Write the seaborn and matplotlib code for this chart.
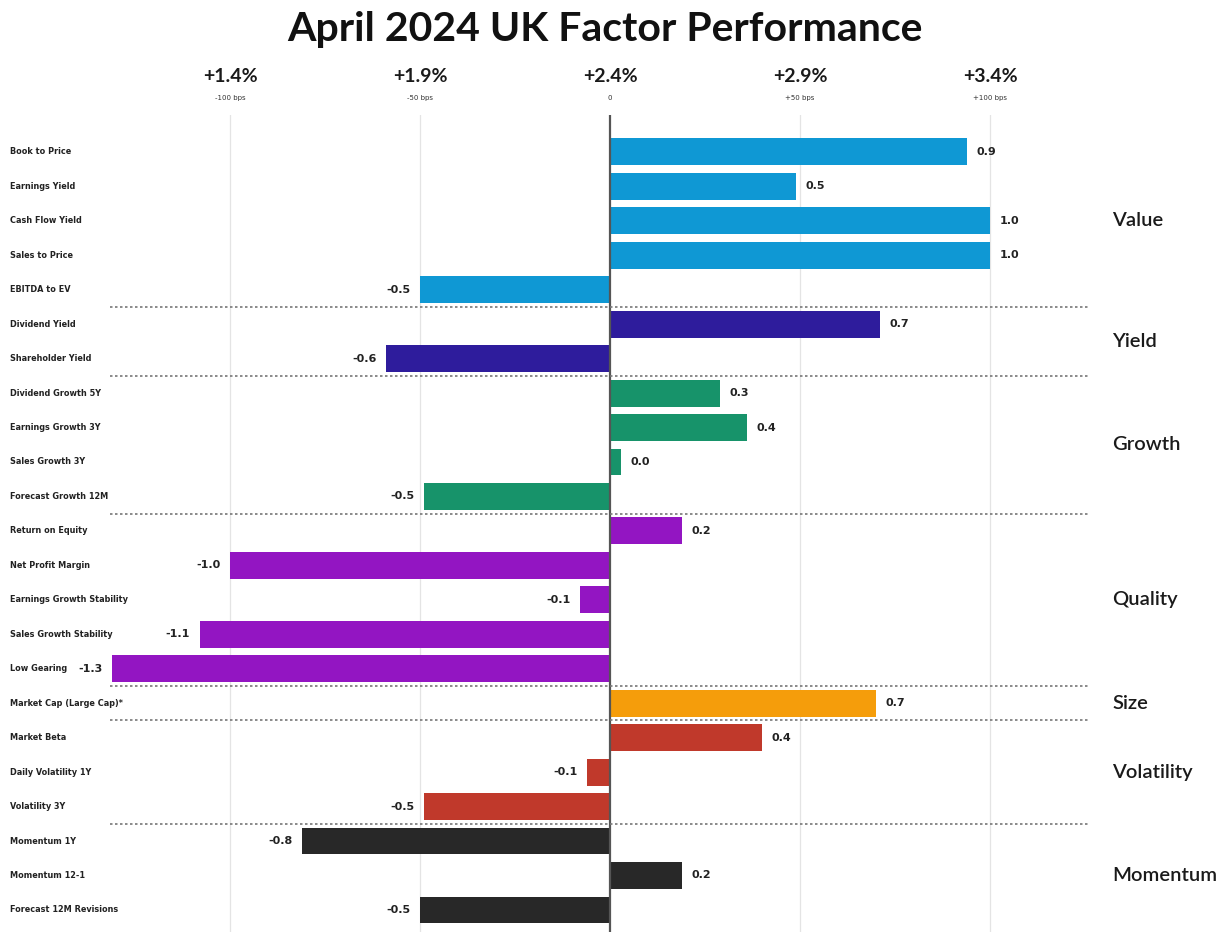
import matplotlib
matplotlib.use("Agg")
import matplotlib.pyplot as plt
import matplotlib.transforms as mtransforms
import seaborn as sns
import pandas as pd

factors = ["Book to Price", "Earnings Yield", "Cash Flow Yield", "Sales to Price", "EBITDA to EV",
           "Dividend Yield", "Shareholder Yield",
           "Dividend Growth 5Y", "Earnings Growth 3Y", "Sales Growth 3Y", "Forecast Growth 12M",
           "Return on Equity", "Net Profit Margin", "Earnings Growth Stability", "Sales Growth Stability", "Low Gearing",
           "Market Cap (Large Cap)*",
           "Market Beta", "Daily Volatility 1Y", "Volatility 3Y",
           "Momentum 1Y", "Momentum 12-1", "Forecast 12M Revisions"]
groups = ["Value"] * 5 + ["Yield"] * 2 + ["Growth"] * 4 + ["Quality"] * 5 + ["Size"] + ["Volatility"] * 3 + ["Momentum"] * 3
values = [0.94, 0.49, 1.0, 1.0, -0.5,
          0.71, -0.59,
          0.29, 0.36, 0.03, -0.49,
          0.19, -1.0, -0.08, -1.08, -1.31,
          0.70,
          0.40, -0.06, -0.49,
          -0.81, 0.19, -0.50]
group_names = ["Value", "Yield", "Growth", "Quality", "Size", "Volatility", "Momentum"]
group_colors = ["#0f98d4", "#2e1c9c", "#17936a", "#9315c2", "#f59d0b", "#c0392b", "#282828"]
tick_values = [-1.0, -0.5, 0.0, 0.5, 1.0]
tick_main = ["+1.4%", "+1.9%", "+2.4%", "+2.9%", "+3.4%"]
tick_sub = ["-100 bps", "-50 bps", "0", "+50 bps", "+100 bps"]

df = pd.DataFrame({"factor": factors, "group": groups, "value": values})

W, H = 1227, 932
fig = plt.figure(figsize=(W / 100, H / 100), dpi=100)
fig.patch.set_facecolor("white")
ax = fig.add_axes([110 / W, 0.0, 980 / W, 1 - 115 / H])

sns.barplot(data=df, x="value", y="factor", hue="group", hue_order=group_names,
            palette=dict(zip(group_names, group_colors)), dodge=False, width=0.78,
            orient="h", ax=ax, legend=False, saturation=1)

ax.set_xlim(-1.316, 1.263)
ax.set_ylim(22.64, -1.07)
for s in ax.spines.values():
    s.set_visible(False)
ax.set_xticks([])
ax.set_yticks([])
ax.set_xlabel("")
ax.set_ylabel("")

for t in tick_values:
    if t == 0:
        ax.axvline(t, color="#555555", lw=1.6, zorder=5)
    else:
        ax.axvline(t, color="#e4e4e4", lw=0.9, zorder=0)

# group separators and labels
n = len(factors)
for gi, g in enumerate(group_names):
    idx = [i for i in range(n) if groups[i] == g]
    a, b = idx[0], idx[-1]
    if b < n - 1:
        ax.axhline(b + 0.5, color="#777777", lw=1.2, ls=(0, (1.5, 1.5)), zorder=6)
    ymid = (a + b) / 2
    ax.text(1.0 + (1112 - 1090) / 980, ymid, g,
            transform=mtransforms.blended_transform_factory(ax.transAxes, ax.transData),
            ha="left", va="center", fontsize=14.5, fontweight="semibold", color="#1a1a1a", family="Lato")

# category labels on the left
for i, f in enumerate(factors):
    ax.text(10 / W, i, f, transform=mtransforms.blended_transform_factory(fig.transFigure, ax.transData),
            ha="left", va="center", fontsize=5.9, fontweight="bold", color="#222222")

# value labels
for i, v in enumerate(values):
    lab = f"{v:.1f}"
    if v >= 0:
        ax.text(v + 0.025, i, lab, ha="left", va="center", fontsize=8, fontweight="bold", color="#222222", zorder=7)
    else:
        ax.text(v - 0.025, i, lab, ha="right", va="center", fontsize=8, fontweight="bold", color="#222222", zorder=7)

# top tick labels
tr = mtransforms.blended_transform_factory(ax.transData, fig.transFigure)
for t, m, s in zip(tick_values, tick_main, tick_sub):
    ax.text(t, 1 - 76 / H, m, transform=tr, ha="center", va="center", fontsize=14, fontweight="bold",
            color="#1a1a1a", family="Lato")
    ax.text(t, 1 - 98 / H, s, transform=tr, ha="center", va="center", fontsize=5, color="#333333")

fig.text(605 / W, 1 - 30 / H, "April 2024 UK Factor Performance", ha="center", va="center",
         fontsize=29.5, fontweight="bold", color="#111111", family="Lato")

fig.savefig("out.png", dpi=100, facecolor="white")
